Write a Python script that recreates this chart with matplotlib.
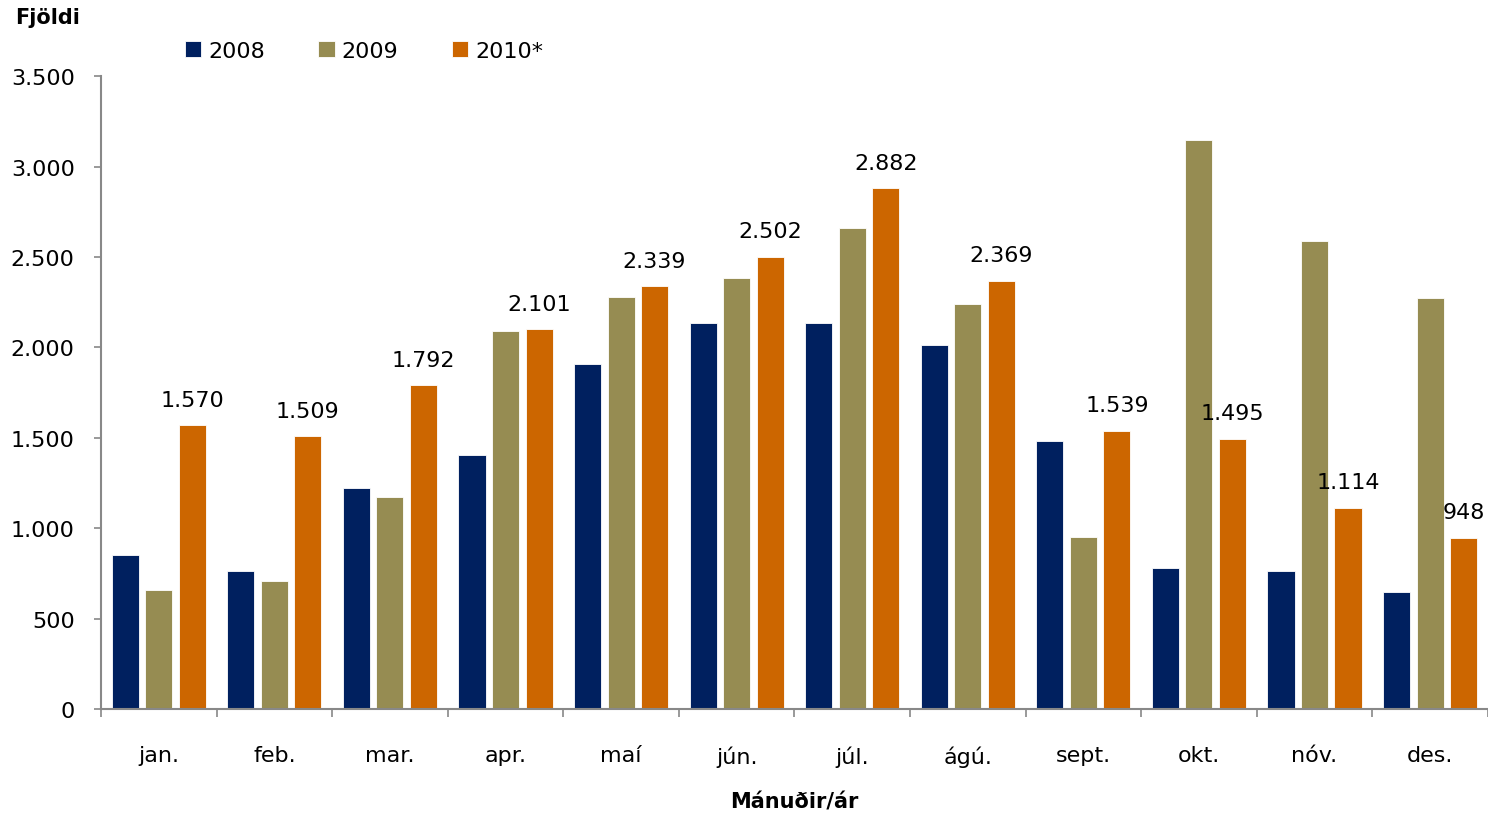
import numpy as np
import matplotlib
matplotlib.use('Agg')
from matplotlib import pyplot as plt
from matplotlib.ticker import FuncFormatter, FixedLocator

# data
months = ['jan.', 'feb.', 'mar.', 'apr.', 'maí', 'jún.', 'júl.', 'ágú.', 'sept.', 'okt.', 'nóv.', 'des.']
y2008 = [852, 763, 1222, 1406, 1908, 2135, 2135, 2013, 1482, 781, 766, 647]
y2009 = [658, 708, 1172, 2090, 2278, 2383, 2660, 2240, 953, 3146, 2590, 2273]
y2010 = [1570, 1509, 1792, 2101, 2339, 2502, 2882, 2369, 1539, 1495, 1114, 948]
series_names = ['2008', '2009', '2010*']
yticks = [0, 500, 1000, 1500, 2000, 2500, 3000, 3500]

colors = ['#00205F', '#968C52', '#CC6600']

plt.rcParams['font.family'] = ['DejaVu Sans']

fig = plt.figure(figsize=(14.88, 8.2), dpi=100)
ax = fig.add_axes([0.0679, 0.134, 0.932, 0.772])

x = np.arange(len(months))
w = 0.234
step = 0.29
for i, (vals, name, c) in enumerate(zip([y2008, y2009, y2010], series_names, colors)):
    ax.bar(x + (i - 1) * step, vals, width=w, color=c, label=name,
           edgecolor='white', linewidth=0.6)

# value labels on 2010 bars
for xi, v in zip(x, y2010):
    txt = '{:,}'.format(v).replace(',', '.')
    ax.annotate(txt, (xi + step, v), xytext=(0, 11), textcoords='offset points',
                ha='center', va='bottom', fontsize=16)

ax.set_xlim(-0.5, len(months) - 0.5)
ax.set_ylim(0, 3500)
ax.set_yticks(yticks)
ax.yaxis.set_major_formatter(FuncFormatter(lambda v, p: '{:,}'.format(int(v)).replace(',', '.')))

ax.set_xticks(x)
ax.set_xticklabels(months)
ax.xaxis.set_minor_locator(FixedLocator(np.arange(-0.5, len(months), 1.0)))
ax.tick_params(axis='x', which='major', length=0, pad=26, labelsize=16)
ax.tick_params(axis='x', which='minor', length=6, width=1.2, color='#888888', direction='out')
ax.tick_params(axis='y', length=5, width=1.2, color='#888888', pad=14, labelsize=16)

for s in ['top', 'right']:
    ax.spines[s].set_visible(False)
for s in ['left', 'bottom']:
    ax.spines[s].set_color('#888888')
    ax.spines[s].set_linewidth(1.5)

ax.set_xlabel('Mánuðir/ár', fontsize=15, fontweight='bold', labelpad=18)
fig.text(0.01, 0.978, 'Fjöldi', fontsize=15, fontweight='bold', ha='left', va='center')

ax.legend(loc='center left', bbox_to_anchor=(0.054, 1.04), ncol=3, frameon=False,
          fontsize=16, handlelength=0.75, handleheight=0.75, handletextpad=0.3,
          columnspacing=2.4, borderaxespad=0)

fig.savefig('out.png', dpi=100)
